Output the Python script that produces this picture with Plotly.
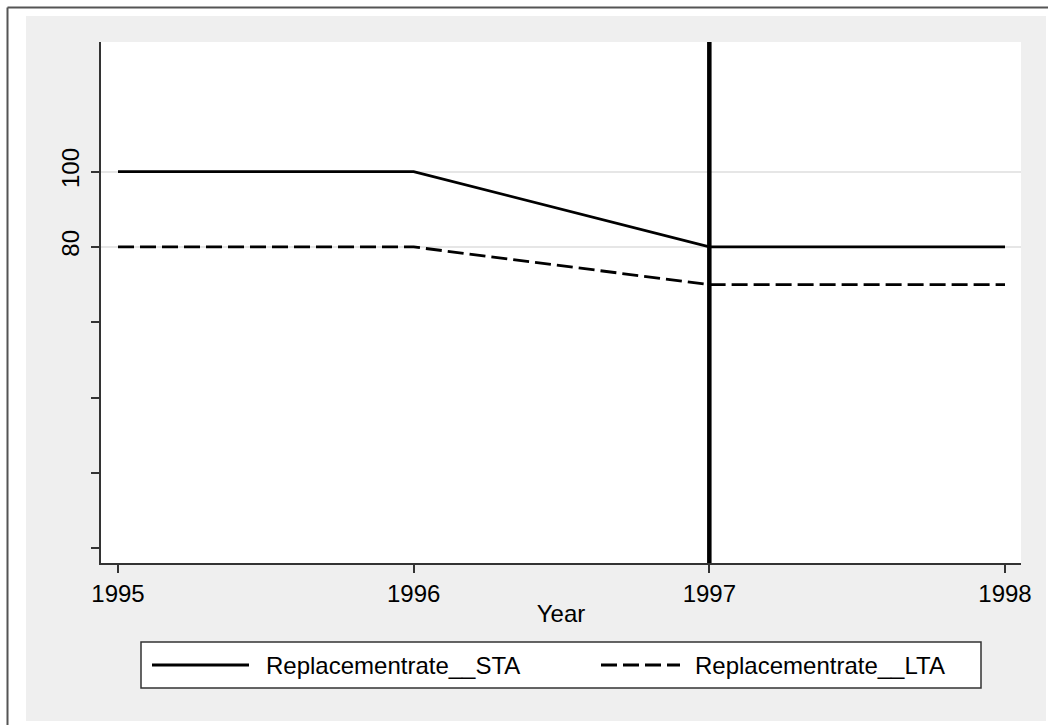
import plotly.graph_objects as go

# ---- data ----
years = [1995, 1996, 1997, 1998]
sta = [100, 100, 80, 80]
lta = [80, 80, 70, 70]
series_names = ["Replacementrate__STA", "Replacementrate__LTA"]
xline_year = 1997
y_major = [80, 100]
y_minor = [0, 20, 40, 60]
x_ticks = [1995, 1996, 1997, 1998]

W, H = 1048, 725
L, R, T, B = 101, 1021, 42, 563   # plot-area pixel box
PW, PH = R - L, B - T

def px(x):
    return (x - L) / PW

def py(y):
    return (B - y) / PH

FONT = "Liberation Sans, Arial, sans-serif"
GRAY = "#EFEFEF"

fig = go.Figure()
fig.add_trace(go.Scatter(x=years, y=sta, mode="lines", name=series_names[0],
                         line=dict(color="black", width=2.8), showlegend=False))
fig.add_trace(go.Scatter(x=years, y=lta, mode="lines", name=series_names[1],
                         line=dict(color="black", width=2.8, dash="16px,6px"), showlegend=False))

fig.add_vline(x=xline_year, line=dict(color="black", width=4.5), layer="above")

shapes = []
# white outer margins (outside gray region)
shapes.append(dict(type="rect", xref="paper", yref="paper", x0=px(-5), x1=px(26), y0=py(-5), y1=py(730),
                   fillcolor="white", line_width=0, layer="below"))
shapes.append(dict(type="rect", xref="paper", yref="paper", x0=px(-5), x1=px(1055), y0=py(-5), y1=py(16),
                   fillcolor="white", line_width=0, layer="below"))
shapes.append(dict(type="rect", xref="paper", yref="paper", x0=px(-5), x1=px(1055), y0=py(721), y1=py(730),
                   fillcolor="white", line_width=0, layer="below"))
shapes.append(dict(type="rect", xref="paper", yref="paper", x0=px(1046), x1=px(1055), y0=py(-5), y1=py(730),
                   fillcolor="white", line_width=0, layer="below"))
# outer border (left and top)
shapes.append(dict(type="line", xref="paper", yref="paper", x0=px(7.5), x1=px(7.5), y0=py(7.5), y1=py(730),
                   line=dict(color="#555555", width=2)))
shapes.append(dict(type="line", xref="paper", yref="paper", x0=px(7.5), x1=px(1055), y0=py(7.5), y1=py(7.5),
                   line=dict(color="#555555", width=2)))
# legend box
shapes.append(dict(type="rect", xref="paper", yref="paper", x0=px(141), x1=px(981), y0=py(642), y1=py(688),
                   fillcolor="white", line=dict(color="#333333", width=1.5)))
shapes.append(dict(type="line", xref="paper", yref="paper", x0=px(152), x1=px(249), y0=py(665), y1=py(665),
                   line=dict(color="black", width=2.8)))
shapes.append(dict(type="line", xref="paper", yref="paper", x0=px(601), x1=px(680), y0=py(665), y1=py(665),
                   line=dict(color="black", width=2.8, dash="16px,6px")))
for s in shapes:
    fig.add_shape(**s)

fig.add_annotation(text=series_names[0], xref="paper", yref="paper", x=px(264), y=py(665),
                   xanchor="left", yanchor="middle", showarrow=False, font=dict(size=24, color="black", family=FONT))
fig.add_annotation(text=series_names[1], xref="paper", yref="paper", x=px(693), y=py(665),
                   xanchor="left", yanchor="middle", showarrow=False, font=dict(size=24, color="black", family=FONT))

x0 = 1995 - 17 / 295.7
x1 = 1998 + 16 / 295.7
y_lo = -3.9
y_hi = 134.4

fig.update_layout(
    width=W, height=H,
    margin=dict(l=L, r=W - R, t=T, b=H - B, pad=0),
    paper_bgcolor=GRAY, plot_bgcolor="white",
    font=dict(family=FONT, size=24, color="black"),
    showlegend=False,
    xaxis=dict(range=[x0, x1], tickvals=x_ticks, ticktext=[str(v) for v in x_ticks],
               showgrid=False, zeroline=False, showline=True, linecolor="#333333", linewidth=1.5,
               ticks="outside", ticklen=8, tickwidth=1.5, tickcolor="#333333",
               tickfont=dict(size=24), ticklabelstandoff=0,
               title=dict(text="Year", font=dict(size=24), standoff=0)),
    yaxis=dict(range=[y_lo, y_hi], tickvals=y_major, ticktext=[str(v) for v in y_major],
               tickangle=-90, showgrid=True, gridcolor="#E6E6E6", gridwidth=2,
               zeroline=False, showline=True, linecolor="#333333", linewidth=1.5,
               ticks="outside", ticklen=8, tickwidth=1.5, tickcolor="#333333",
               tickfont=dict(size=24), ticklabelstandoff=3,
               minor=dict(tickvals=y_minor, ticks="outside", ticklen=8, tickwidth=1.5,
                          tickcolor="#333333", showgrid=False)),
)

fig.write_html("out.html", config={"displayModeBar": False},
               post_script="document.body.style.margin='0';document.body.style.overflow='hidden';")
